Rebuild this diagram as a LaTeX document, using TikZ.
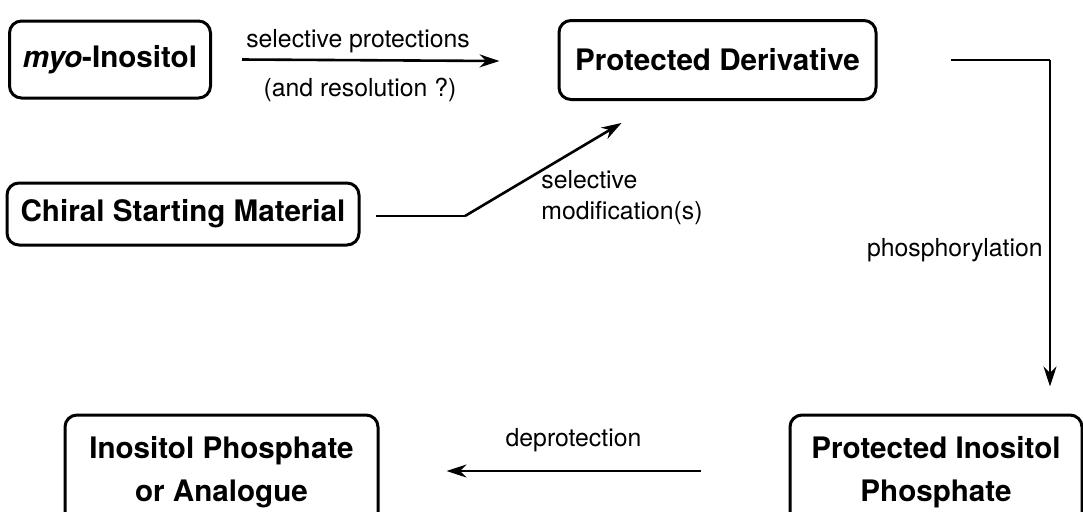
\documentclass[tikz,border=0pt]{standalone}
\usepackage{fontspec}
\setmainfont{TeX Gyre Heros}
\usetikzlibrary{arrows.meta,positioning}

\tikzset{
  box/.style={draw, line width=1.5pt, rounded corners=6pt, align=center, inner sep=0pt,
    font=\fontsize{14.8}{21.5}\selectfont\bfseries},
  flow/.style={line width=1.3pt, -{Stealth[length=10pt,width=6.5pt]}},
  link/.style={line width=1.3pt},
  lbl/.style={font=\fontsize{12.4}{15.5}\selectfont, inner sep=0pt, align=left},
}

\begin{document}
\begin{tikzpicture}[x=0.5pt, y=-0.5pt]
  \clip (0,0) rectangle (1083,511);

  % Starting points
  \node[box, minimum width=100.5pt, minimum height=38.5pt] (myo) at (110,59.5) {\textit{myo}-Inositol};
  \node[box, minimum width=176pt, minimum height=31pt] (chiral) at (183,214) {Chiral Starting Material};

  % Intermediates and product
  \node[box, minimum width=158.5pt, minimum height=39.5pt] (prot) at (717.5,60) {Protected Derivative};
  \node[box, minimum width=146pt, minimum height=57pt] (pip) at (936,472) {Protected Inositol\\Phosphate};
  \node[box, minimum width=156.5pt, minimum height=57pt] (ip) at (221.5,472) {Inositol Phosphate\\or Analogue};

  % Protection
  \draw[flow] ([xshift=15pt]myo.east) -- ([xshift=-29pt,yshift=-0.5pt]prot.west);
  \node[lbl] (selprot) at (358,41) {selective protections};
  \node[lbl] (resol) at (360,90) {(and resolution ?)};

  % Modification
  \coordinate (bend) at (465,216);
  \draw[link] ([xshift=7.5pt,yshift=-1pt]chiral.east) -- (bend);
  \draw[flow] (bend) -- ([xshift=-48pt,yshift=-11pt]prot.south);
  \node[lbl, anchor=west] (selmod) at (541,198) {selective\\modification(s)};

  % Phosphorylation
  \coordinate (turn) at (1050,60);
  \draw[link] ([xshift=36.5pt]prot.east) -- (turn);
  \draw[flow] (turn) -- ([yshift=13.5pt]turn |- pip.north);
  \node[lbl, anchor=east] (phos) at (1043,250) {phosphorylation};

  % Deprotection
  \draw[flow] ([xshift=-44pt,yshift=0.5pt]pip.west) -- node[lbl, above=9pt] (deprot) {deprotection} ([xshift=33.5pt,yshift=0.5pt]ip.east);
\end{tikzpicture}
\end{document}
